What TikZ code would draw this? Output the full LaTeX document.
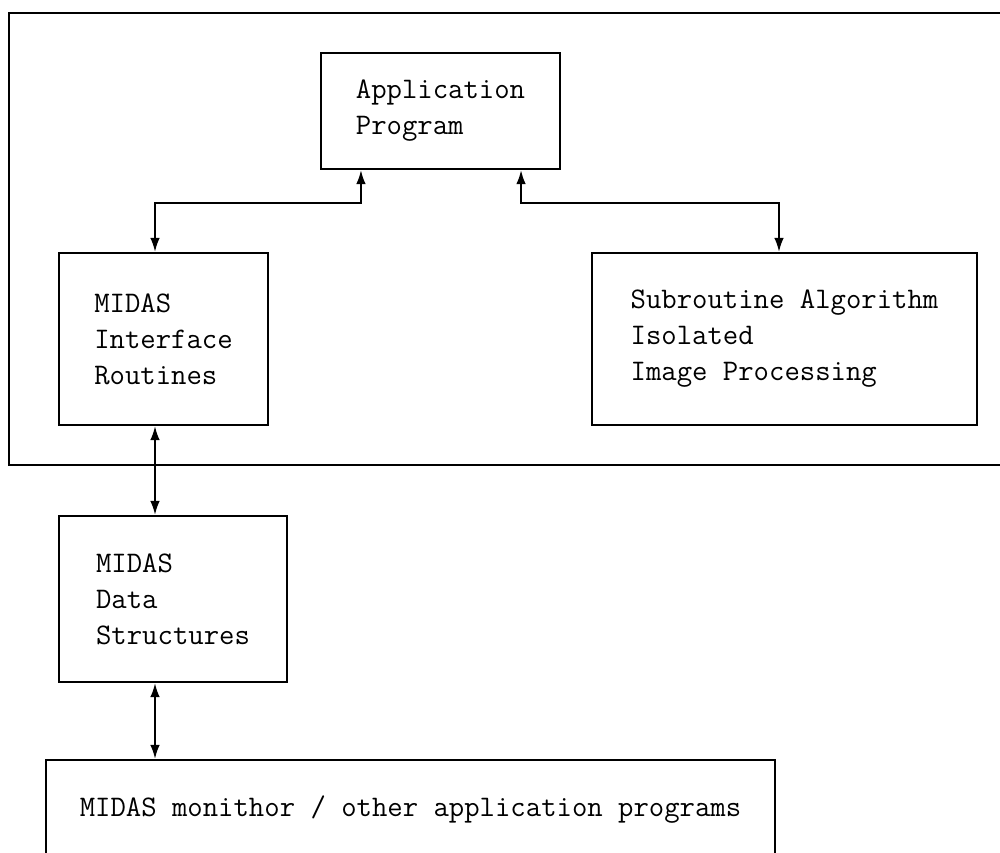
\documentclass[tikz,border=0pt]{standalone}
\usepackage{tikz}
\usetikzlibrary{arrows.meta}

\begin{document}
\begin{tikzpicture}[x=0.02cm, y=-0.02cm,
  box/.style={draw, line width=1.2pt, align=left, inner sep=0pt,
    font=\fontsize{17}{20.5}\selectfont\ttfamily},
  link/.style={line width=1.1pt, {Latex[length=2.8mm,width=1.9mm]}-{Latex[length=2.8mm,width=1.9mm]}}]
\useasboundingbox (0,0) rectangle (1000,852);
% outer frame, open at the right
\draw [line width=1.2pt] (1010,13) -- (9,13) -- (9,465) -- (1010,465);
\node [box, minimum width=4.78cm, minimum height=2.32cm] (app) at (440.5,111) {Application\\Program};
\node [box, minimum width=4.18cm, minimum height=3.44cm] (ir) at (163.5,339) {MIDAS\\Interface\\Routines};
\node [box, minimum width=7.7cm, minimum height=3.44cm] (sub) at (784.5,339) {Subroutine Algorithm\\Isolated\\Image Processing};
\node [box, minimum width=4.56cm, minimum height=3.32cm] (ds) at (173,599) {MIDAS\\Data\\Structures};
\node [box, minimum width=14.58cm, minimum height=2cm] (mon) at (410.5,810) {MIDAS monithor / other application programs};
\coordinate (jl) at (155,203);
\coordinate (jr) at (779,203);
\draw [link] ([xshift=0.82cm]app.south west) |- (jl) -- (jl |- ir.north);
\draw [link] ([xshift=-0.8cm]app.south east) |- (jr) -- (jr |- sub.north);
\draw [link] (ir.south -| jl) -- (ds.north -| jl);
\draw [link] (ds.south -| jl) -- (mon.north -| jl);
\end{tikzpicture}
\end{document}
